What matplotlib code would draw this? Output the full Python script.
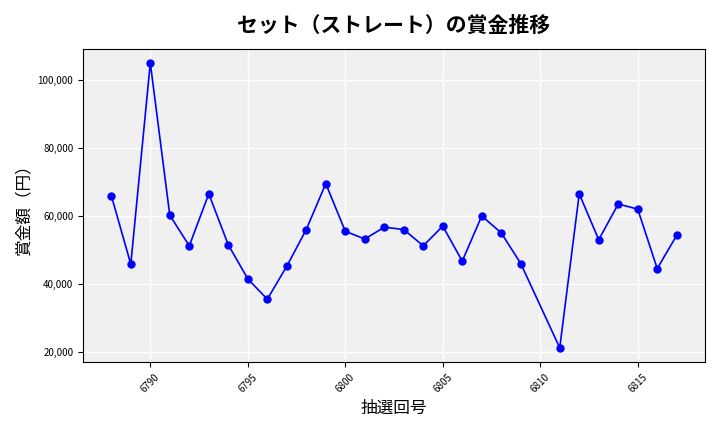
import matplotlib
matplotlib.use('Agg')
from matplotlib import pyplot as plt
from matplotlib.ticker import FuncFormatter

plt.rcParams['font.family'] = ['Noto Sans CJK JP', 'DejaVu Sans']

draws = [6788, 6789, 6790, 6791, 6792, 6793, 6794, 6795, 6796, 6797, 6798, 6799,
         6800, 6801, 6802, 6803, 6804, 6805, 6806, 6807, 6808, 6809,
         6811, 6812, 6813, 6814, 6815, 6816, 6817]
prizes = [66000, 45800, 105000, 60200, 51200, 66500, 51500, 41500, 35500, 45200, 56000, 69500,
          55500, 53200, 56700, 56000, 51200, 57000, 46700, 60000, 55000, 46000,
          21200, 66500, 53000, 63500, 62000, 44500, 54300]

fig, ax = plt.subplots(figsize=(7.2, 4.32), dpi=100)
ax.set_facecolor('#f0f0f0')
ax.grid(True, color='white', linewidth=1)
ax.set_axisbelow(True)
ax.plot(draws, prizes, color='blue', marker='o', markersize=5, linewidth=1.2)
ax.set_title('セット（ストレート）の賞金推移', fontsize=15, fontweight='bold', pad=12)
ax.set_xlabel('抽選回号', fontsize=12)
ax.set_ylabel('賞金額（円）', fontsize=12)
ax.set_xticks([6790, 6795, 6800, 6805, 6810, 6815])
ax.yaxis.set_major_formatter(FuncFormatter(lambda v, p: f'{int(v):,}'))
ax.tick_params(axis='x', labelrotation=45, labelsize=7)
ax.tick_params(axis='y', labelsize=7)
plt.tight_layout()
plt.savefig('out.png', dpi=100)
plt.close()
